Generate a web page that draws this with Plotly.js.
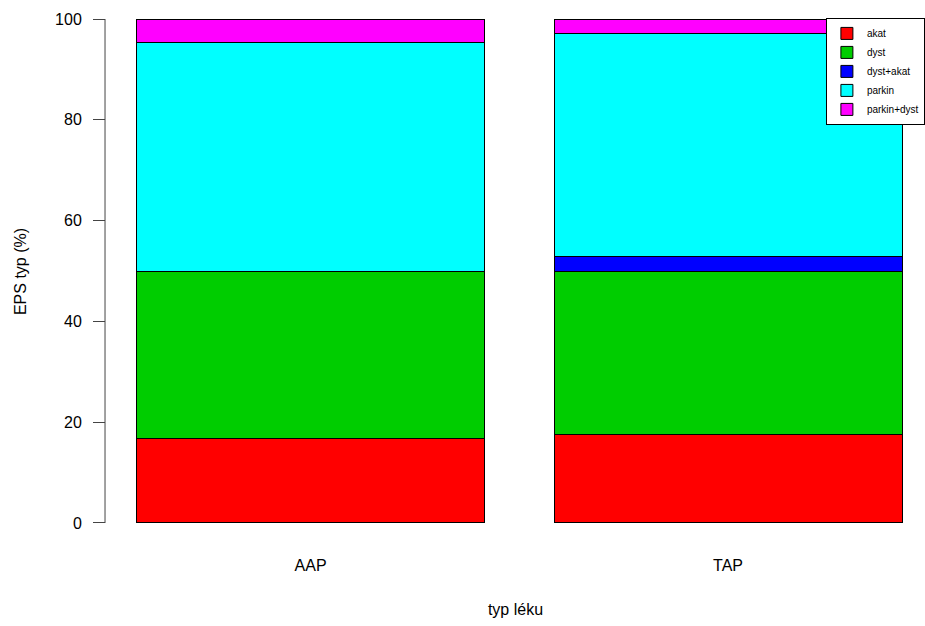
<!DOCTYPE html>
<html><head><meta charset="utf-8">
<script src="https://cdn.plot.ly/plotly-3.0.1.min.js"></script>
<style>html,body{margin:0;padding:0;background:#fff}#c{width:925px;height:626px}</style>
</head><body><div id="c"></div>
<script>
const categories = ["AAP", "TAP"];
const xPositions = [0.7, 1.9];
const seriesNames = ["akat", "dyst", "dyst+akat", "parkin", "parkin+dyst"];
const akat = [16.67, 17.65];
const dyst = [33.33, 32.35];
const dystAkat = [0, 2.94];
const parkin = [45.24, 44.12];
const parkinDyst = [4.76, 2.94];
const yTicks = [0, 20, 40, 60, 80, 100];
const colors = ["#FF0000", "#00CD00", "#0000FF", "#00FFFF", "#FF00FF"];

const series = [akat, dyst, dystAkat, parkin, parkinDyst];
const traces = series.map((vals, i) => ({
  type: "bar",
  name: seriesNames[i],
  x: xPositions,
  y: vals,
  width: 1,
  marker: {color: colors[i], line: {color: "#000", width: 1}},
  hoverinfo: "none"
}));

const fnt = {family: "Liberation Sans, Arial, sans-serif", size: 16, color: "#000"};
const layout = {
  width: 925, height: 626,
  margin: {l: 106, r: 0, t: 0, b: 83, autoexpand: false},
  barmode: "stack",
  showlegend: true,
  paper_bgcolor: "#fff", plot_bgcolor: "#fff",
  font: fnt,
  xaxis: {
    range: [0.112, 2.466],
    tickvals: xPositions, ticktext: categories,
    showgrid: false, zeroline: false, showline: false, ticks: "",
    ticklabelstandoff: 11,
    title: {text: "typ léku", font: fnt, standoff: 30}
  },
  yaxis: {
    range: [-3.97, 103.77],
    tickvals: yTicks,
    showgrid: false, zeroline: false, showline: false,
    ticks: "outside", ticklen: 12, tickcolor: "#444", tickwidth: 1,
    ticklabelstandoff: 8,
    title: {text: "EPS typ (%)", font: fnt, standoff: 24}
  },
  shapes: [{type: "line", xref: "paper", yref: "y", x0: -0.0012, x1: -0.0012, y0: yTicks[0], y1: yTicks[yTicks.length-1], line: {color: "#444", width: 1}}],
  legend: {
    x: 0.879, y: 0.967, xanchor: "left", yanchor: "top",
    bordercolor: "#000", borderwidth: 1, bgcolor: "#fff",
    font: {family: "Liberation Sans, Arial, sans-serif", size: 10, color: "#000"},
    traceorder: "normal", tracegroupgap: 0
  }
};
Plotly.newPlot("c", traces, layout, {displayModeBar: false, staticPlot: true});
</script></body></html>
